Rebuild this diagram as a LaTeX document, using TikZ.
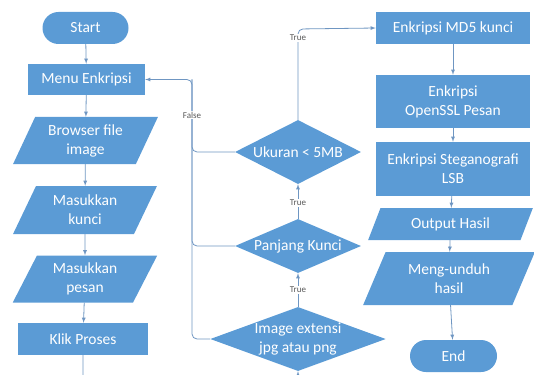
\documentclass[tikz,border=0pt]{standalone}
\usepackage{fontspec}
\setmainfont{Carlito}
\usepackage{xcolor}
\usepackage{tikz}
\usetikzlibrary{shapes.geometric}
\usetikzlibrary{arrows,positioning,calc}
\definecolor{boxblue}{HTML}{5B9BD5}
\definecolor{lineblue}{HTML}{6F96C2}
\definecolor{lblgray}{HTML}{595959}

\begin{document}
\begin{tikzpicture}[x=1pt,y=-1pt,
		base/.style={fill=boxblue,draw=none,text=white,align=center,font=\fontsize{15.5}{19}\selectfont,inner sep=1pt},
		proc/.style={base,rectangle},
		term/.style={base,rectangle,rounded corners=16pt,minimum width=86pt,minimum height=32pt},
		io/.style={base,trapezium,trapezium left angle=64,trapezium right angle=116,trapezium stretches=true},
		cond/.style={base,diamond,inner sep=0pt},
		flow/.style={-latex,draw=lineblue,line width=0.8pt},
		link/.style={draw=lineblue,line width=0.8pt},
		lbl/.style={fill=white,text=lblgray,font=\fontsize{9}{10}\selectfont,inner sep=1pt}]
		\useasboundingbox (0,0) rectangle (534,374);
		\node[term] (start) at (85.5,28) {Start};
		\node[proc,minimum width=117pt,minimum height=31pt] (menu) at (86.5,79.5) {Menu Enkripsi};
		\node[io,minimum width=145pt,minimum height=47pt] (browse) at (85.5,140.5) {Browser file\\image};
		\node[io,minimum width=145pt,minimum height=48pt] (kunci) at (85,210) {Masukkan\\kunci};
		\node[io,minimum width=145pt,minimum height=47pt] (pesan) at (85,279) {Masukkan\\pesan};
		\node[proc,minimum width=130pt,minimum height=32pt] (proses) at (83,339) {Klik Proses};
		\node[cond,aspect=2,minimum width=126pt,minimum height=64pt] (ukuran) at (298,152) {Ukuran < 5MB};
		\node[cond,aspect=2.3,minimum width=126pt,minimum height=54pt] (panjang) at (298,246) {Panjang Kunci};
		\node[cond,aspect=2.74,minimum width=170pt,minimum height=62pt] (ekstensi) at (298,339) {Image extensi\\jpg atau png};
		\node[proc,minimum width=154pt,minimum height=32pt] (md5) at (453,28) {Enkripsi MD5 kunci};
		\node[proc,minimum width=154pt,minimum height=53pt] (openssl) at (453,101.5) {Enkripsi\\OpenSSL Pesan};
		\node[proc,minimum width=154pt,minimum height=54pt] (stegano) at (453,169) {Enkripsi Steganografi\\LSB};
		\node[io,trapezium left angle=65,trapezium right angle=115,minimum width=165pt,minimum height=32pt] (output) at (450.5,224) {Output Hasil};
		\node[io,trapezium left angle=65,trapezium right angle=115,minimum width=172pt,minimum height=53pt] (unduh) at (449,278.5) {Meng-unduh\\hasil};
		\node[term,minimum width=87pt] (end) at (453.5,356) {End};
		\coordinate (fx) at (192,79.5);
		\coordinate (tx) at (298,29);
		\coordinate (loop) at (190,395);
		\draw[flow] (start) -- (menu);
		\draw[flow] (menu) -- (browse);
		\draw[flow] (browse) -- (kunci);
		\draw[flow] (kunci) -- (pesan);
		\draw[flow] (pesan) -- (proses);
		\draw[flow,rounded corners=4pt] (proses.south) |- (loop) -| (ekstensi.south);
		\draw[flow] (ekstensi.north) -- (panjang.south);
		\node[lbl] (true1) at (298,290) {True};
		\draw[flow] (panjang.north) -- (ukuran.south);
		\node[lbl] (true2) at (298,203) {True};
		\draw[flow,rounded corners=5pt] (ukuran.north) -- (tx) -- (md5.west);
		\node[lbl] (true3) at (298,38) {True};
		\draw[link,rounded corners=5pt] (ukuran.west) -| (fx);
		\draw[link,rounded corners=5pt] (panjang.west) -| (fx);
		\draw[flow,rounded corners=5pt] (ekstensi.west) -| (fx) -- (menu.east);
		\node[lbl] (false) at (192,115) {False};
		\draw[flow] (md5) -- (openssl);
		\draw[flow] (openssl) -- (stegano);
		\draw[flow] (stegano) -- (output);
		\draw[flow] (output) -- (unduh);
		\draw[flow] (unduh) -- (end);
	\end{tikzpicture}
\end{document}
